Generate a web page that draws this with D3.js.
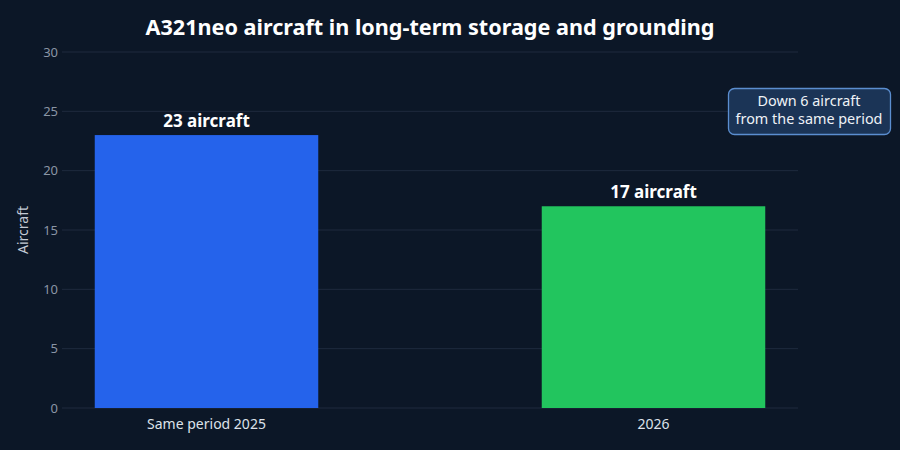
<!DOCTYPE html>
<html>
<head>
<meta charset="utf-8">
<script src="https://cdn.jsdelivr.net/npm/d3@7"></script>
<style>
  html, body { margin: 0; padding: 0; background: #0c1727; }
  svg { display: block; font-family: "Noto Sans", "Open Sans", sans-serif; }
</style>
</head>
<body>
<svg id="chart" width="900" height="450"></svg>
<script>
// data
const categories = ["Same period 2025", "2026"];
const aircraft = [23, 17];
const barLabels = ["23 aircraft", "17 aircraft"];
const barColors = ["#2563eb", "#22c55e"];
const yTicks = [0, 5, 10, 15, 20, 25, 30];
const noteLines = ["Down 6 aircraft", "from the same period"];

const svg = d3.select("#chart");
const W = 900, H = 450;
const plot = { left: 62, right: 798, top: 52, bottom: 408 };

svg.append("rect").attr("width", W).attr("height", H).attr("fill", "#0c1727");

const y = d3.scaleLinear().domain([0, 30]).range([plot.bottom, plot.top]);
// band scale set so the bars sit where the reference has them
const x = d3.scaleBand().domain(categories).range([-17, 877])
    .paddingInner(0.5).paddingOuter(0.25);

// grid
svg.append("g").selectAll("line").data(yTicks).enter().append("line")
    .attr("x1", plot.left).attr("x2", plot.right)
    .attr("y1", d => y(d)).attr("y2", d => y(d))
    .attr("stroke", "#1f2b3e").attr("stroke-width", 1);

// y axis
const yAxis = svg.append("g").attr("transform", `translate(${plot.left},0)`)
    .call(d3.axisLeft(y).tickValues(yTicks).tickSize(0).tickPadding(4));
yAxis.select(".domain").remove();
yAxis.selectAll("text").attr("fill", "#8b95a5").attr("font-size", 13)
    .style("font-family", "'Noto Sans', sans-serif");

svg.append("text")
    .attr("transform", `translate(23,${(plot.top + plot.bottom) / 2}) rotate(-90)`)
    .attr("text-anchor", "middle").attr("dy", "0.35em")
    .attr("fill", "#c3cad5").attr("font-size", 14)
    .text("Aircraft");

// bars
svg.append("g").selectAll("rect").data(categories).enter().append("rect")
    .attr("x", d => x(d)).attr("width", x.bandwidth())
    .attr("y", (d, i) => y(aircraft[i]))
    .attr("height", (d, i) => y(0) - y(aircraft[i]))
    .attr("fill", (d, i) => barColors[i]);

// value labels
svg.append("g").selectAll("text").data(categories).enter().append("text")
    .attr("x", d => x(d) + x.bandwidth() / 2)
    .attr("y", (d, i) => y(aircraft[i]) - 8)
    .attr("text-anchor", "middle")
    .attr("fill", "#ffffff").attr("font-size", 17).attr("font-weight", "bold")
    .text((d, i) => barLabels[i]);

// x axis labels
svg.append("g").selectAll("text").data(categories).enter().append("text")
    .attr("x", d => x(d) + x.bandwidth() / 2)
    .attr("y", plot.bottom + 21)
    .attr("text-anchor", "middle")
    .attr("fill", "#dde2ea").attr("font-size", 14)
    .text(d => d);

// title
svg.append("text")
    .attr("x", 430).attr("y", 35)
    .attr("text-anchor", "middle")
    .attr("fill", "#ffffff").attr("font-size", 21.6).attr("font-weight", "bold")
    .text("A321neo aircraft in long-term storage and grounding");

// annotation
const note = svg.append("g");
note.append("rect")
    .attr("x", 728.5).attr("y", 88.5).attr("width", 162).attr("height", 46)
    .attr("rx", 6)
    .attr("fill", "#1b3456").attr("stroke", "#5b8ed0").attr("stroke-width", 1.3);
note.selectAll("text").data(noteLines).enter().append("text")
    .attr("x", 809).attr("y", (d, i) => 106 + i * 18)
    .attr("text-anchor", "middle")
    .attr("fill", "#eef2f7").attr("font-size", 14.4)
    .text(d => d);
</script>
</body>
</html>
